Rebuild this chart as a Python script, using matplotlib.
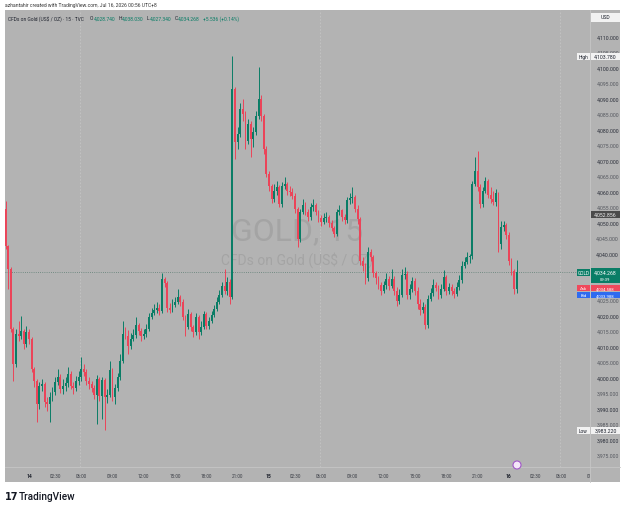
import matplotlib
matplotlib.use('Agg')
import matplotlib.pyplot as plt
from matplotlib.patches import Rectangle, Ellipse
from matplotlib.transforms import blended_transform_factory
import numpy as np

plt.rcParams['font.family'] = ['Roboto', 'DejaVu Sans']

# ---------------- data (15-minute bars, CFDs on Gold) ----------------
bar_index = list(range(-9, 188))
first_open = 4054.5
closes = [
    4042.6, 4035.2, 4015.8, 4004.5, 4014.2, 4013.5, 4015.2, 4011.0, 4014.8, 4012.6,
    4002.9, 3999.0, 3991.6, 3997.4, 3998.1, 3992.3, 3991.6, 3993.9, 3995.5, 3998.7,
    4000.3, 3996.5, 3997.4, 3998.4, 4001.3, 3997.4, 3996.8, 3999.0, 4000.3, 4002.9,
    4001.9, 3999.0, 3998.1, 3996.8, 3994.5, 3999.7, 3994.2, 3999.4, 3993.9, 3994.5,
    4002.6, 3993.9, 3996.8, 4000.3, 4005.5, 4014.2, 4013.5, 4010.3, 4012.6, 4013.9,
    4017.1, 4015.2, 4013.5, 4014.2, 4015.8, 4019.7, 4021.0, 4021.9, 4022.6, 4021.6,
    4031.9, 4030.6, 4022.6, 4021.9, 4023.5, 4024.5, 4026.1, 4024.5, 4019.7, 4016.5,
    4020.6, 4016.5, 4014.8, 4019.7, 4014.8, 4016.5, 4020.6, 4016.8, 4018.4, 4020.3,
    4022.3, 4024.5, 4026.8, 4029.7, 4028.1, 4031.0, 4026.1, 4093.2, 4076.1, 4078.7,
    4086.8, 4085.2, 4076.5, 4081.9, 4077.1, 4079.4, 4084.5, 4090.0, 4084.5, 4073.9,
    4065.8, 4061.9, 4057.7, 4060.3, 4061.6, 4056.1, 4061.9, 4062.6, 4060.3, 4060.0,
    4058.7, 4054.5, 4044.8, 4053.5, 4055.8, 4053.5, 4051.9, 4055.2, 4055.8, 4053.5,
    4051.6, 4050.3, 4051.6, 4051.9, 4050.0, 4048.4, 4046.5, 4053.5, 4054.2, 4051.9,
    4051.0, 4057.4, 4058.1, 4058.4, 4054.5, 4051.3, 4037.7, 4036.1, 4032.3, 4040.6,
    4039.0, 4033.9, 4032.3, 4030.0, 4028.1, 4030.0, 4031.9, 4029.7, 4031.9, 4028.1,
    4024.8, 4026.8, 4033.2, 4033.5, 4026.8, 4028.7, 4031.3, 4028.1, 4023.9, 4021.9,
    4022.9, 4017.1, 4025.5, 4027.4, 4030.0, 4029.0, 4026.8, 4028.7, 4032.6, 4028.1,
    4029.4, 4028.1, 4027.1, 4029.4, 4031.6, 4036.1, 4037.4, 4039.0, 4039.4, 4062.6,
    4066.8, 4061.6, 4056.1, 4060.3, 4063.6, 4059.0, 4057.7, 4056.8, 4059.7, 4043.2,
    4048.7, 4049.4, 4046.1, 4037.7, 4034.5, 4028.74, 4034.268,
]
highs = [
    4057.1, 4042.9, 4035.8, 4016.5, 4015.8, 4018.4, 4020.0, 4015.8, 4016.8, 4015.8,
    4013.2, 4003.5, 3999.7, 3998.7, 3999.7, 3998.7, 3993.9, 3995.5, 3997.1, 4000.3,
    4002.9, 4001.3, 3999.7, 4000.3, 4003.5, 4002.3, 3998.7, 4000.6, 4002.3, 4006.8,
    4004.5, 4002.9, 4000.3, 3999.0, 3997.7, 4001.0, 4000.3, 4000.3, 4000.0, 3996.5,
    4005.5, 4003.2, 3998.1, 4001.6, 4007.7, 4018.4, 4016.5, 4015.5, 4014.5, 4015.8,
    4019.7, 4017.7, 4016.1, 4015.8, 4017.4, 4021.0, 4022.6, 4023.9, 4024.5, 4023.9,
    4033.9, 4032.6, 4031.3, 4024.2, 4025.5, 4026.1, 4028.7, 4026.8, 4025.5, 4020.3,
    4022.3, 4021.3, 4017.1, 4021.0, 4020.3, 4018.4, 4021.6, 4021.3, 4019.7, 4021.6,
    4023.5, 4026.1, 4028.4, 4031.0, 4035.2, 4032.6, 4031.9, 4103.78, 4093.9, 4081.0,
    4088.7, 4090.0, 4086.1, 4083.5, 4082.9, 4081.0, 4086.1, 4100.3, 4091.3, 4085.2,
    4074.8, 4066.8, 4062.6, 4062.6, 4063.6, 4062.3, 4063.2, 4064.8, 4063.2, 4061.9,
    4061.3, 4059.7, 4055.2, 4054.5, 4057.7, 4056.8, 4054.5, 4056.5, 4057.7, 4056.5,
    4054.2, 4052.6, 4053.2, 4053.5, 4052.6, 4051.0, 4049.0, 4054.5, 4055.8, 4054.5,
    4052.9, 4058.4, 4059.7, 4061.6, 4059.0, 4055.8, 4051.9, 4039.0, 4037.1, 4042.3,
    4041.6, 4039.7, 4034.5, 4032.9, 4031.0, 4031.3, 4033.9, 4032.9, 4035.2, 4032.9,
    4029.4, 4028.7, 4035.2, 4035.8, 4034.5, 4030.3, 4032.6, 4032.3, 4029.4, 4025.5,
    4024.5, 4023.9, 4026.8, 4029.0, 4031.9, 4031.0, 4030.0, 4030.3, 4034.8, 4033.2,
    4030.6, 4030.3, 4029.0, 4031.0, 4033.2, 4037.7, 4039.0, 4040.6, 4040.0, 4063.6,
    4071.3, 4073.2, 4062.6, 4061.6, 4064.8, 4064.2, 4061.6, 4060.3, 4061.0, 4060.0,
    4050.6, 4050.6, 4050.0, 4047.1, 4038.7, 4035.2, 4038.03,
]
lows = [
    4041.6, 4028.7, 4014.8, 3999.0, 4003.5, 4011.9, 4012.6, 4009.4, 4010.0, 4011.0,
    4001.9, 3997.1, 3985.8, 3990.0, 3995.8, 3990.6, 3989.4, 3985.8, 3992.6, 3994.5,
    3997.7, 3995.2, 3994.8, 3995.8, 3997.1, 3996.5, 3994.8, 3995.8, 3997.7, 3999.0,
    4000.6, 3997.7, 3996.5, 3995.5, 3993.2, 3985.2, 3992.6, 3986.8, 3983.22, 3991.9,
    3993.9, 3992.6, 3991.6, 3995.8, 3999.4, 4004.8, 4012.6, 4007.7, 4009.4, 4011.9,
    4012.9, 4013.9, 4011.9, 4012.6, 4013.2, 4015.2, 4019.0, 4020.3, 4021.0, 4020.3,
    4021.0, 4029.4, 4021.3, 4021.0, 4021.3, 4022.9, 4023.9, 4023.2, 4018.7, 4013.5,
    4015.8, 4015.2, 4013.2, 4013.9, 4012.6, 4013.9, 4015.8, 4015.8, 4015.8, 4017.7,
    4019.7, 4021.6, 4023.9, 4026.1, 4027.1, 4026.8, 4023.9, 4025.5, 4070.6, 4073.9,
    4077.7, 4082.9, 4073.9, 4075.5, 4071.3, 4074.5, 4078.4, 4083.5, 4082.9, 4072.3,
    4064.8, 4060.3, 4056.5, 4056.8, 4059.0, 4055.2, 4055.2, 4061.0, 4059.0, 4058.7,
    4057.7, 4053.2, 4042.3, 4043.9, 4052.9, 4052.6, 4050.6, 4051.0, 4053.9, 4052.6,
    4050.3, 4049.0, 4049.7, 4050.3, 4048.7, 4047.4, 4045.5, 4045.8, 4052.6, 4050.6,
    4049.7, 4050.0, 4056.1, 4056.5, 4053.5, 4049.7, 4036.5, 4034.5, 4030.3, 4031.3,
    4037.7, 4032.6, 4030.3, 4028.7, 4026.8, 4027.4, 4028.7, 4028.4, 4029.0, 4026.8,
    4023.2, 4023.9, 4026.1, 4031.9, 4025.5, 4025.5, 4027.7, 4026.8, 4022.3, 4020.3,
    4021.0, 4015.8, 4016.1, 4024.8, 4026.5, 4028.1, 4025.5, 4025.8, 4028.1, 4026.8,
    4027.1, 4026.8, 4025.8, 4026.5, 4028.4, 4030.6, 4035.5, 4036.8, 4037.1, 4038.4,
    4061.9, 4060.3, 4054.8, 4055.2, 4059.7, 4058.1, 4056.5, 4055.8, 4055.5, 4040.6,
    4041.6, 4047.4, 4044.8, 4036.5, 4033.2, 4027.1, 4027.34,
]
opens = [first_open] + closes[:-1]

tick_bars = [0, 10, 20, 32, 44, 56, 68, 80, 92, 102, 112, 124, 136, 148, 160, 172, 184, 194, 204, 216]
tick_labels = ['14', '02:30', '06:00', '09:00', '12:00', '15:00', '18:00', '21:00',
               '15', '02:30', '06:00', '09:00', '12:00', '15:00', '18:00', '21:00',
               '16', '02:30', '06:00', '09:00']
day_labels = {'14', '15', '16'}
session_breaks = [19.5, 111.5, 203.5]

high_value = 4103.78
low_value = 3983.22
last_price = 4034.268
marker_price = 4052.856
ask_price = 4034.588
bid_price = 4033.988
countdown = '09:39'
ohlc_letters = ['O', 'H', 'L', 'C']
ohlc_text = ['4,028.740', '4,038.030', '4,027.340', '4,034.268']
change_text = '+5.536 (+0.14%)'

# ---------------- style ----------------
BG = '#b3b3b3'
GREEN = '#0a7d66'
RED = '#eb4459'
TXT = '#1e222d'
W, H = 625, 510

def fr(x0, y0, x1, y1):
    return [x0 / W, 1 - y1 / H, (x1 - x0) / W, (y1 - y0) / H]

fig = plt.figure(figsize=(6.25, 5.1), dpi=100)
fig.patch.set_facecolor('white')
fig.patches.append(Rectangle((5 / W, 1 - 483 / H), 615 / W, 472 / H, transform=fig.transFigure,
                             facecolor=BG, edgecolor='none', zorder=-5))

YLIM = (3971.29, 4118.71)
XLIM = (-9.2, 215.1)
PXU = (YLIM[1] - YLIM[0]) / 457.0   # price units per pixel

ax = fig.add_axes(fr(5, 11, 590, 468))
ax.set_xlim(*XLIM)
ax.set_ylim(*YLIM)
ax.axis('off')

# session breaks
for sb in session_breaks:
    ax.axvline(sb, color='#c4c4c4', lw=0.6, ls=(0, (2, 2)), zorder=1)

# watermark
ax.text(0.5, 0.5175, 'GOLD, 15', transform=ax.transAxes, ha='center', va='center',
        fontsize=23, color='#a4a4a4', zorder=1)
ax.text(0.5, 0.455, 'CFDs on Gold (US$ / OZ)', transform=ax.transAxes, ha='center', va='center',
        fontsize=10, color='#a4a4a4', zorder=1)

# candles
x = np.array(bar_index, dtype=float)
o = np.array(opens); c = np.array(closes); h = np.array(highs); l = np.array(lows)
up = c >= o
cols = np.where(up, GREEN, RED)
ax.vlines(x, l, h, colors=cols, lw=0.7, zorder=3)
bottoms = np.minimum(o, c)
heights = np.maximum(np.abs(c - o), 0.25)
ax.bar(x, heights, bottom=bottoms, width=0.72, color=cols, edgecolor='none', zorder=4)

# last price dotted line
ax.axhline(last_price, color='#5f7f75', lw=0.6, ls=(0, (1, 1.6)), zorder=2)

# ---------------- price scale ----------------
ax2 = fig.add_axes(fr(590, 11, 620, 468))
ax2.set_xlim(0, 30)
ax2.set_ylim(*YLIM)
ax2.axis('off')
last_box_top = last_price + 3.5 * PXU
last_box_bottom = last_price - 11.5 * PXU
for p in np.arange(3975, 4111, 5):
    if last_box_bottom - 2 * PXU < p < last_box_top + 2 * PXU:
        continue  # hidden behind the last-price label
    major = (p % 10 == 0)
    ax2.text(29, p, f'{p:,.3f}', ha='right', va='center', fontsize=3.7,
             color='#2a2e39' if major else '#55585f', zorder=2)

def price_box(yc, text, fc, tc, h_px=8, text2=None, fs=3.7):
    ax2.add_patch(Rectangle((1.2, yc - h_px / 2 * PXU), 28.6, h_px * PXU, facecolor=fc,
                            edgecolor='none', zorder=5))
    if text2 is None:
        ax2.text(15.5, yc, text, ha='center', va='center', fontsize=fs, color=tc, zorder=6)
    else:
        ax2.text(15.5, yc + 3.3 * PXU, text, ha='center', va='center', fontsize=fs, color=tc, zorder=6)
        ax2.text(15.5, yc - 2.8 * PXU, text2, ha='center', va='center', fontsize=3.0, color=tc, zorder=6)

blend = blended_transform_factory(ax.transAxes, ax.transData)
def side_tag(yc, text, fc, tc, h_px=7, fs=3.4):
    x0 = (577 - 5) / 585.0
    ax.add_patch(Rectangle((x0, yc - h_px / 2 * PXU), 13 / 585.0, h_px * PXU, transform=blend,
                           facecolor=fc, edgecolor='none', zorder=6, clip_on=False))
    ax.text(x0 + 6.5 / 585.0, yc, text, transform=blend, ha='center', va='center', fontsize=fs,
            color=tc, zorder=7, clip_on=False)

# USD box
price_box(YLIM[1] - 7 * PXU, 'USD', '#f2f2f2', TXT, h_px=9)
# High
price_box(high_value, f'{high_value:,.3f}', '#f2f2f2', TXT, h_px=7)
side_tag(high_value, 'High', '#f2f2f2', TXT)
# marker line label
price_box(marker_price, f'{marker_price:,.3f}', '#4a4a4a', '#f0f0f0', h_px=7)
# last price
price_box(last_price - 4.0 * PXU, f'{last_price:,.3f}', GREEN, 'white', h_px=15, text2=countdown)
side_tag(last_price - 1 * PXU, 'GOLD', GREEN, 'white', h_px=7)
# ask / bid
ask_y = last_price - 16.5 * PXU
bid_y = last_price - 23 * PXU
price_box(ask_y, f'{ask_price:,.3f}', '#f0495c', 'white', h_px=6, fs=3.1)
side_tag(ask_y, 'Ask', '#f0495c', 'white', h_px=6, fs=3.1)
price_box(bid_y, f'{bid_price:,.3f}', '#2f6bf0', 'white', h_px=6, fs=3.1)
side_tag(bid_y, 'Bid', '#2f6bf0', 'white', h_px=6, fs=3.1)
# Low
price_box(low_value, f'{low_value:,.3f}', '#f2f2f2', TXT, h_px=7)
side_tag(low_value, 'Low', '#f2f2f2', TXT)

# ---------------- time scale ----------------
ax3 = fig.add_axes(fr(5, 468, 590, 483))
ax3.set_xlim(*XLIM)
ax3.set_ylim(0, 1)
ax3.axis('off')
for tb, tl in zip(tick_bars, tick_labels):
    ax3.text(tb, 0.45, tl, ha='center', va='center', fontsize=3.6 if tl in day_labels else 3.3,
             color=TXT if tl in day_labels else '#3a3d45',
             fontweight='bold' if tl in day_labels else 'normal', clip_on=True)

# separators
fig.add_artist(plt.Line2D([590 / W, 590 / W], [1 - 11 / H, 1 - 483 / H], color='#c6c6c6', lw=0.6))
fig.add_artist(plt.Line2D([5 / W, 620 / W], [1 - 468 / H, 1 - 468 / H], color='#c6c6c6', lw=0.6))

# events icon near the time scale
fig.add_artist(Ellipse((517 / W, 1 - 466 / H), 8 / W, 8 / H, transform=fig.transFigure,
                       facecolor='#f4e6f8', edgecolor='#a257c8', lw=0.8, zorder=8))

# ---------------- header texts ----------------
fig.text(5 / W, 1 - 5 / H, 'azhantahir created with TradingView.com, Jul 16, 2026 00:56 UTC+8',
         fontsize=3.6, color='#333333', ha='left', va='center')
fig.text(8 / W, 1 - 19 / H, 'CFDs on Gold (US$ / OZ) · 15 · TVC', fontsize=3.5, color=TXT,
         ha='left', va='center')

renderer = fig.canvas.get_renderer()
cursor = 90.0
HFS = 3.6
pieces = []
for letter, val in zip(ohlc_letters, ohlc_text):
    pieces.append((letter, TXT, 0.0))
    pieces.append((val, GREEN, 2.8))
pieces.append((change_text, GREEN, 0.0))
for txt, col, gap_after in pieces:
    t = fig.text(cursor / W, 1 - 19 / H, txt, fontsize=HFS, color=col, ha='left', va='center')
    wpx = t.get_window_extent(renderer=renderer).width
    cursor += wpx + gap_after + 0.3

# footer logo
fig.text(5 / W, 1 - 497 / H, '17', fontsize=7, fontweight='bold', color='#131722', ha='left',
         va='center', family=['DejaVu Sans'])
fig.text(19 / W, 1 - 497 / H, 'TradingView', fontsize=7.2, color='#131722', ha='left', va='center',
         fontweight='medium')

fig.savefig('out.png', dpi=100, facecolor='white')
